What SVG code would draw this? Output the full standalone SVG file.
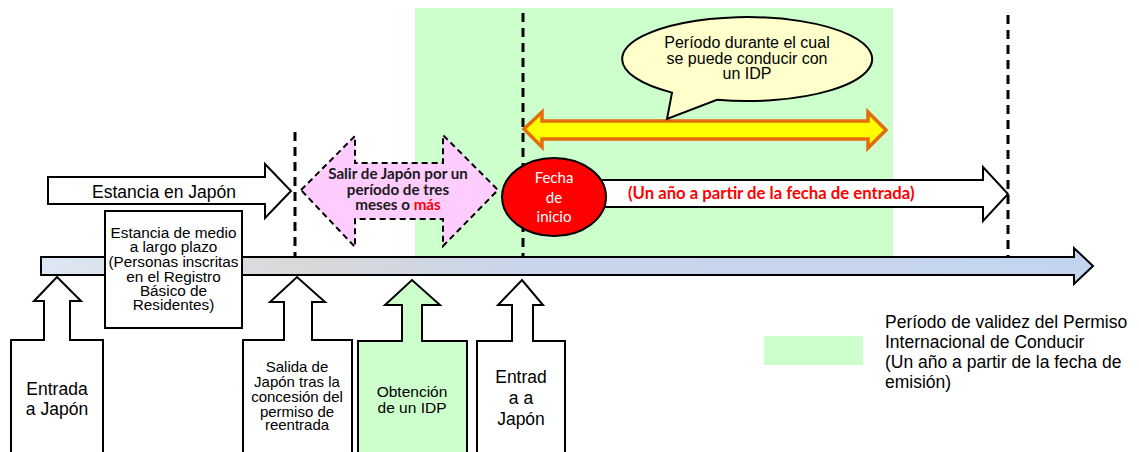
<svg xmlns="http://www.w3.org/2000/svg" width="1139" height="452" viewBox="0 0 1139 452">
<defs>
<linearGradient id="tl" x1="41" y1="0" x2="1093" y2="0" gradientUnits="userSpaceOnUse">
<stop offset="0" stop-color="#dde6f4"/>
<stop offset="0.25" stop-color="#d8d8d8"/>
<stop offset="0.45" stop-color="#c9d5ea"/>
<stop offset="1" stop-color="#c4d4ee"/>
</linearGradient>
</defs>
<style>
.ol{stroke:#000;stroke-width:2;stroke-linejoin:miter}
.dash{stroke:#000;stroke-width:3;stroke-dasharray:9 6;fill:none}
.a{font-family:"Liberation Sans",Arial,sans-serif;fill:#000;text-anchor:middle}
.c{font-family:Lato,"Liberation Sans",sans-serif;text-anchor:middle}
</style>
<rect id="valid-period" x="415" y="8" width="478" height="249" fill="#ccffcc"/>
<g id="timeline">
<path class="ol" d="M41,257 L1074,257 L1074,248 L1093,266 L1074,284 L1074,275 L41,275 Z" fill="url(#tl)"/>
</g>
<g id="stay-arrow">
<path class="ol" d="M48,177 L265,177 L265,164 L291,191 L265,218 L265,204 L48,204 Z" fill="#fff"/>
<text class="a" x="164" y="198" font-size="17.5">Estancia en Japón</text>
</g>
<g id="year-arrow">
<path class="ol" d="M590,180 L983,180 L983,167 L1008,194 L983,221 L983,207 L590,207 Z" fill="#fff"/>
<text class="c" x="628" y="199" font-size="16.7" font-weight="bold" fill="#ff0000" style="text-anchor:start">(Un año a partir de la fecha de entrada)</text>
</g>
<g id="connectors">
<line class="dash" x1="295" y1="132" x2="295" y2="257"/>
<line class="dash" x1="523" y1="13" x2="523" y2="257"/>
<line class="dash" x1="1008" y1="15" x2="1008" y2="257"/>
</g>
<g id="leave-arrow">
<path d="M301,190 L355,136 L355,163 L443,163 L443,135 L498,190 L443,246 L443,219 L355,219 L355,247 Z" fill="#ffccff" stroke="#000" stroke-width="2" stroke-dasharray="6 4"/>
<text class="c" x="398" y="179" font-size="15.2" font-weight="bold" fill="#1a1a1a">Salir de Japón por un</text>
<text class="c" x="398" y="195" font-size="15.2" font-weight="bold" fill="#1a1a1a">período de tres</text>
<text class="c" x="398" y="210" font-size="15.2" font-weight="bold" fill="#1a1a1a">meses o <tspan fill="#ff0000">más</tspan></text>
</g>
<g id="idp-arrow">
<path d="M524,129 L542,112 L542,121 L868,121 L868,112 L886,130 L868,148 L868,139 L542,139 L542,147 Z" fill="#ffff00" stroke="#e46c0a" stroke-width="3.5" stroke-linejoin="miter"/>
</g>
<g id="bubble">
<path class="ol" d="M672,92.6 L667,119 L717,99.8 A125,42 0 1 0 672,92.6 Z" fill="#ffffcc"/>
<text class="a" x="747" y="48" font-size="16">Período durante el cual</text>
<text class="a" x="747" y="64" font-size="16">se puede conducir con</text>
<text class="a" x="747" y="79" font-size="16">un IDP</text>
</g>
<g id="start-date">
<ellipse class="ol" cx="554" cy="197" rx="52" ry="39" fill="#ff0000"/>
<text class="c" x="554" y="183" font-size="15" fill="#fff">Fecha</text>
<text class="c" x="554" y="203" font-size="15" fill="#fff">de</text>
<text class="c" x="554" y="222" font-size="15" fill="#fff">inicio</text>
</g>
<g id="resident-box">
<rect class="ol" x="105" y="211" width="137" height="117" fill="#fff"/>
<text class="a" x="173.5" y="237.5" font-size="15.3">Estancia de medio</text>
<text class="a" x="173.5" y="252" font-size="15.3">a largo plazo</text>
<text class="a" x="173.5" y="266.5" font-size="15.3">(Personas inscritas</text>
<text class="a" x="173.5" y="281.5" font-size="15.3">en el Registro</text>
<text class="a" x="173.5" y="296" font-size="15.3">Básico de</text>
<text class="a" x="173.5" y="310" font-size="15.3">Residentes)</text>
</g>
<g id="entry1">
<path class="ol" d="M11,456 L11,340 L44,340 L44,301 L34,301 L57,277 L81,301 L70,301 L70,340 L103,340 L103,456" fill="#fff"/>
<text class="a" x="57" y="395" font-size="17.5">Entrada</text>
<text class="a" x="57" y="415" font-size="17.5">a Japón</text>
</g>
<g id="exit">
<path class="ol" d="M243,456 L243,340 L284,340 L284,302 L270,302 L297,277 L325,302 L312,302 L312,340 L352,340 L352,456" fill="#fff"/>
<text class="a" x="297" y="372" font-size="15">Salida de</text>
<text class="a" x="297" y="387" font-size="15">Japón tras la</text>
<text class="a" x="297" y="401.5" font-size="15">concesión del</text>
<text class="a" x="297" y="416.5" font-size="15">permiso de</text>
<text class="a" x="297" y="430" font-size="15">reentrada</text>
</g>
<g id="obtain-idp">
<path class="ol" d="M358,456 L358,341 L402,341 L402,305 L385,305 L412,280 L440,305 L422,305 L422,341 L467,341 L467,456" fill="#ccffcc"/>
<text class="a" x="412" y="397" font-size="15.5">Obtención</text>
<text class="a" x="412" y="413" font-size="15.5">de un IDP</text>
</g>
<g id="entry2">
<path class="ol" d="M477,456 L477,341 L512,341 L512,305 L498,305 L522,280 L543,305 L533,305 L533,341 L565,341 L565,456" fill="#fff"/>
<text class="a" x="521" y="383" font-size="17.5">Entrad</text>
<text class="a" x="521" y="404" font-size="17.5">a a</text>
<text class="a" x="521" y="425" font-size="17.5">Japón</text>
</g>
<g id="legend">
<rect x="764" y="336" width="99" height="29" fill="#ccffcc"/>
<text class="a" x="885" y="328" font-size="17.5" style="text-anchor:start">Período de validez del Permiso</text>
<text class="a" x="885" y="348" font-size="17.5" style="text-anchor:start">Internacional de Conducir</text>
<text class="a" x="885" y="368" font-size="17.5" style="text-anchor:start">(Un año a partir de la fecha de</text>
<text class="a" x="885" y="388" font-size="17.5" style="text-anchor:start">emisión)</text>
</g>
</svg>
